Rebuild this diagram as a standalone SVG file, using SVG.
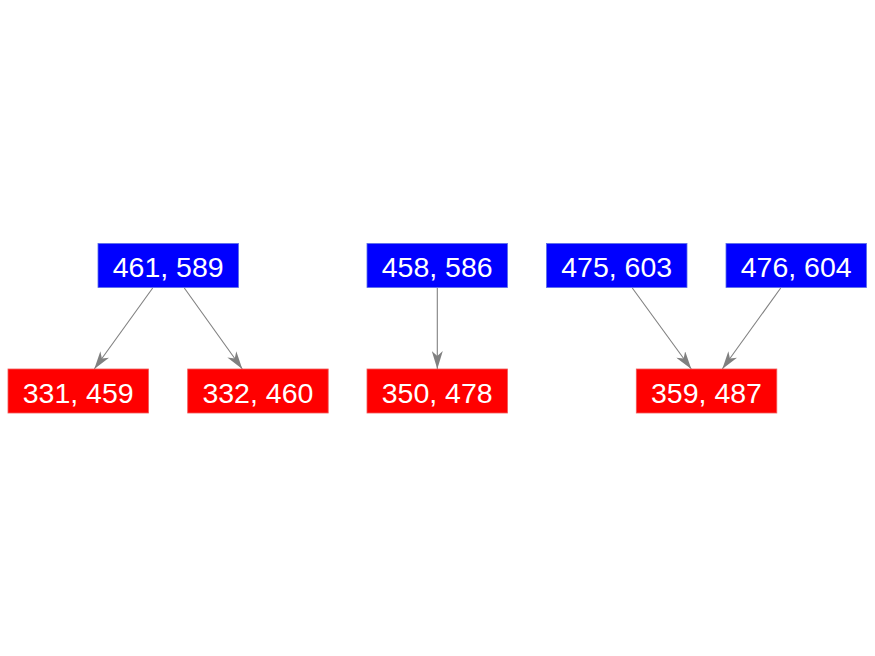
<svg xmlns="http://www.w3.org/2000/svg" width="875" height="656" viewBox="0 0 875 656">
<style>
.blue{fill:#0000ff;stroke:#5a6ee6;stroke-width:0.8}
.red{fill:#ff0000;stroke:#f05a5a;stroke-width:0.8}
.lbl{font-family:"Liberation Sans",Arial,sans-serif;font-size:28.5px;fill:#ffffff;text-anchor:middle}
.edge{stroke:#808080;stroke-width:1.1;fill:none;marker-end:url(#arr)}
</style>
<defs>
<marker id="arr" viewBox="0 0 18 11" refX="18" refY="5.5" markerWidth="18" markerHeight="11" markerUnits="userSpaceOnUse" orient="auto">
<path d="M0,0 L18,5.5 L0,11 L5,5.5 z" fill="#808080"/>
</marker>
</defs>
<g id="edges">
<line class="edge" x1="152.7" y1="288" x2="94.3" y2="369"/>
<line class="edge" x1="184.3" y1="288" x2="242.3" y2="369"/>
<line class="edge" x1="437.3" y1="288" x2="437.3" y2="369"/>
<line class="edge" x1="632.3" y1="288" x2="691.3" y2="369"/>
<line class="edge" x1="780.7" y1="288" x2="722.3" y2="369"/>
</g>
<g id="n461"><rect class="blue" x="98" y="243.5" width="140.5" height="44"/><text class="lbl" x="168.2" y="277.2">461, 589</text></g>
<g id="n458"><rect class="blue" x="367" y="243.5" width="140.5" height="44"/><text class="lbl" x="437.2" y="277.2">458, 586</text></g>
<g id="n475"><rect class="blue" x="546.5" y="243.5" width="140.5" height="44"/><text class="lbl" x="616.7" y="277.2">475, 603</text></g>
<g id="n476"><rect class="blue" x="726" y="243.5" width="140.5" height="44"/><text class="lbl" x="796.2" y="277.2">476, 604</text></g>
<g id="n331"><rect class="red" x="8" y="369" width="140.5" height="44"/><text class="lbl" x="78.2" y="402.7">331, 459</text></g>
<g id="n332"><rect class="red" x="187.7" y="369" width="140.5" height="44"/><text class="lbl" x="257.9" y="402.7">332, 460</text></g>
<g id="n350"><rect class="red" x="367" y="369" width="140.5" height="44"/><text class="lbl" x="437.2" y="402.7">350, 478</text></g>
<g id="n359"><rect class="red" x="636.3" y="369" width="140.5" height="44"/><text class="lbl" x="706.5" y="402.7">359, 487</text></g>
</svg>
